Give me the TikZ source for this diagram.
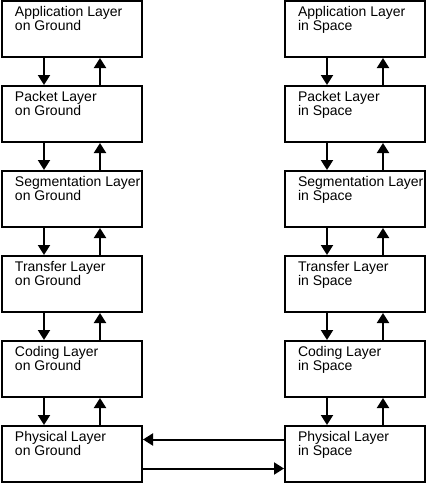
\documentclass[tikz,border=0pt]{standalone}
\usepackage{fontspec}
\setmainfont{Liberation Sans}
\usetikzlibrary{arrows.meta,positioning}

\newcommand{\layertext}[2]{\parbox[c][46pt][t]{114pt}{\strut\mbox{#1}\\\mbox{#2}}}

\tikzset{
 layer/.style={draw, line width=2pt, inner sep=0pt, minimum width=140pt, minimum height=56pt,
   font=\fontsize{14pt}{14.5pt}\selectfont},
 flow/.style={line width=2pt, -{Triangle[width=12pt,length=10pt]}}
}

\begin{document}
\begin{tikzpicture}[node distance=27pt and 141pt]

\useasboundingbox (0,0) rectangle (427pt,-483pt);

% ground side
\node[layer] (ag) at (72pt,-29pt) {\layertext{Application Layer}{on Ground}};
\node[layer, below=of ag] (pg) {\layertext{Packet Layer}{on Ground}};
\node[layer, below=of pg] (sg) {\layertext{Segmentation Layer}{on Ground}};
\node[layer, below=of sg] (tg) {\layertext{Transfer Layer}{on Ground}};
\node[layer, below=of tg] (cg) {\layertext{Coding Layer}{on Ground}};
\node[layer, below=of cg] (yg) {\layertext{Physical Layer}{on Ground}};

% space side
\node[layer, right=of ag] (as) {\layertext{Application Layer}{in Space}};
\node[layer, below=of as] (ps) {\layertext{Packet Layer}{in Space}};
\node[layer, below=of ps] (ss) {\layertext{Segmentation Layer}{in Space}};
\node[layer, below=of ss] (ts) {\layertext{Transfer Layer}{in Space}};
\node[layer, below=of ts] (cs) {\layertext{Coding Layer}{in Space}};
\node[layer, below=of cs] (ys) {\layertext{Physical Layer}{in Space}};

% down and up
\draw[flow] ([xshift=-28pt]ag.south) -- ([xshift=-28pt]pg.north);
\draw[flow] ([xshift=28pt]pg.north) -- ([xshift=28pt]ag.south);
\draw[flow] ([xshift=-28pt]pg.south) -- ([xshift=-28pt]sg.north);
\draw[flow] ([xshift=28pt]sg.north) -- ([xshift=28pt]pg.south);
\draw[flow] ([xshift=-28pt]sg.south) -- ([xshift=-28pt]tg.north);
\draw[flow] ([xshift=28pt]tg.north) -- ([xshift=28pt]sg.south);
\draw[flow] ([xshift=-28pt]tg.south) -- ([xshift=-28pt]cg.north);
\draw[flow] ([xshift=28pt]cg.north) -- ([xshift=28pt]tg.south);
\draw[flow] ([xshift=-28pt]cg.south) -- ([xshift=-28pt]yg.north);
\draw[flow] ([xshift=28pt]yg.north) -- ([xshift=28pt]cg.south);

\draw[flow] ([xshift=-28pt]as.south) -- ([xshift=-28pt]ps.north);
\draw[flow] ([xshift=28pt]ps.north) -- ([xshift=28pt]as.south);
\draw[flow] ([xshift=-28pt]ps.south) -- ([xshift=-28pt]ss.north);
\draw[flow] ([xshift=28pt]ss.north) -- ([xshift=28pt]ps.south);
\draw[flow] ([xshift=-28pt]ss.south) -- ([xshift=-28pt]ts.north);
\draw[flow] ([xshift=28pt]ts.north) -- ([xshift=28pt]ss.south);
\draw[flow] ([xshift=-28pt]ts.south) -- ([xshift=-28pt]cs.north);
\draw[flow] ([xshift=28pt]cs.north) -- ([xshift=28pt]ts.south);
\draw[flow] ([xshift=-28pt]cs.south) -- ([xshift=-28pt]ys.north);
\draw[flow] ([xshift=28pt]ys.north) -- ([xshift=28pt]cs.south);

% link
\draw[flow] ([yshift=14.5pt]ys.west) -- ([yshift=14.5pt]yg.east);
\draw[flow] ([yshift=-14.5pt]yg.east) -- ([yshift=-14.5pt]ys.west);

\end{tikzpicture}
\end{document}
